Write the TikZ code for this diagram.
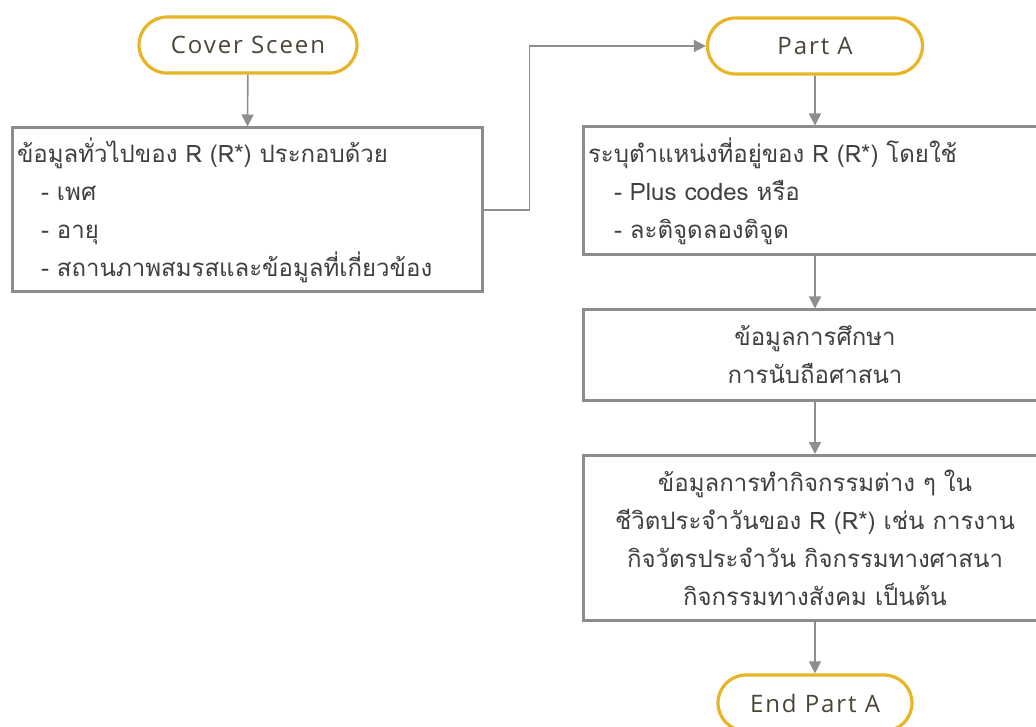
\documentclass[tikz,border=0pt]{standalone}
\usepackage{fontspec}
\setmainfont{Open Sans}
\newfontfamily\termfont[LetterSpace=8]{Open Sans}
\newfontfamily\thaifont[Script=Thai]{Loma}
\usetikzlibrary{arrows.meta,shapes.misc}
\definecolor{boxgray}{HTML}{8C8C8C}
\definecolor{linegray}{HTML}{8E8E8E}
\definecolor{termgold}{HTML}{E8B526}
\definecolor{txt}{HTML}{404040}
\definecolor{termtxt}{HTML}{4A4535}
\tikzset{
  terminal/.style={rounded rectangle, draw=termgold, line width=3.2pt, fill=white,
    minimum height=56pt, text=termtxt, font=\termfont\fontsize{24}{28}\selectfont, inner sep=0pt},
  infobox/.style={rectangle, draw=boxgray, line width=3pt, fill=white, text=txt,
    font=\thaifont\fontsize{24}{38}\selectfont, inner sep=0pt},
  flow/.style={draw=linegray, line width=1.6pt, -{Triangle[length=12pt,width=12pt]}}
}
\begin{document}
\begin{tikzpicture}[x=1pt,y=-1pt]
\useasboundingbox (0,0) rectangle (1036,727);
\clip (0,0) rectangle (1036,727);
\fill[white] (0,0) rectangle (1036,727);

% left column
\node[terminal, minimum width=218pt] (cover) at (248,45) {Cover Sceen};
\node[infobox, minimum width=470pt, minimum height=164pt, text width=460pt, align=left] (general) at (247,210)
  {ข้อมูลทั่วไปของ R (R*) ประกอบด้วย\\
   \hspace*{24pt}- เพศ\\
   \hspace*{24pt}- อายุ\\
   \hspace*{24pt}- สถานภาพสมรสและข้อมูลที่เกี่ยวข้อง};

% right column
\node[terminal, minimum width=215pt] (parta) at (815,46) {Part A};
\node[infobox, minimum width=464pt, minimum height=128pt, text width=454pt, align=left] (location) at (815,191)
  {ระบุตำแหน่งที่อยู่ของ R (R*) โดยใช้\\
   \hspace*{26pt}- Plus codes หรือ\\
   \hspace*{26pt}- ละติจูดลองติจูด};
\node[infobox, minimum width=464pt, minimum height=90pt, text width=454pt, align=center] (education) at (815,355)
  {ข้อมูลการศึกษา\\การนับถือศาสนา};
\node[infobox, minimum width=464pt, minimum height=165pt, text width=454pt, align=center] (activity) at (815,538)
  {ข้อมูลการทำกิจกรรมต่าง ๆ ใน\\
   ชีวิตประจำวันของ R (R*) เช่น การงาน\\
   กิจวัตรประจำวัน กิจกรรมทางศาสนา\\
   กิจกรรมทางสังคม เป็นต้น};
\node[terminal, minimum width=194pt] (endA) at (815,703) {End Part A};

% connectors
\draw[flow] (cover) -- (general);
\draw[flow] (general.east) -- ++(46,0) |- (parta.west);
\draw[flow] (parta) -- (location);
\draw[flow] (location) -- (education);
\draw[flow] (education) -- (activity);
\draw[flow] (activity) -- (endA);
\end{tikzpicture}
\end{document}
